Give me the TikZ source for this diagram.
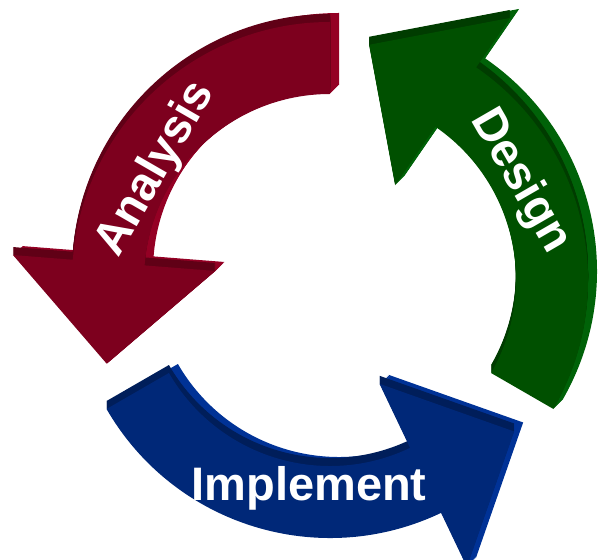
\documentclass[tikz,border=0pt]{standalone}
\usepackage{fontspec}
\setmainfont{Liberation Sans}
\usetikzlibrary{calc}

\definecolor{analysisred}{RGB}{125,0,30}
\definecolor{analysislit}{RGB}{148,0,36}
\definecolor{analysisdark}{RGB}{96,0,22}
\definecolor{designgreen}{RGB}{0,80,0}
\definecolor{designlit}{RGB}{0,98,8}
\definecolor{designdark}{RGB}{0,60,0}
\definecolor{implementblue}{RGB}{0,40,120}
\definecolor{implementlit}{RGB}{0,50,150}
\definecolor{implementdark}{RGB}{0,30,90}

% one curved arrow of the cycle, starting at angle #1 and running 85.5 degrees ccw
\newcommand{\cyclearrow}[1]{%
  (#1:258) arc[start angle=#1, delta angle=85.5, radius=258]
  -- (#1+85.5:318) -- ($(#1+85.5:216)+(#1+175.5:101)$) -- (#1+85.5:115)
  -- (#1+85.5:186) arc[start angle=#1+85.5, delta angle=-85.5, radius=186] -- cycle}

\begin{document}
\begin{tikzpicture}[x=1pt, y=1pt,
    cyclelabel/.style={text=white, inner sep=0pt, font=\fontsize{47}{50}\selectfont\bfseries}
]
    \useasboundingbox (-330,-279) rectangle (274,280);

    % --- Arrows: lit sides, shaded tops, then the front face ---
    \foreach \s/\col in {90/analysis, 210/implement, 330/design} {
        \foreach \d in {9,...,1}
            \fill[\col lit, shift={(\d,\d)}] \cyclearrow{\s};
        \foreach \d in {8,...,1}
            \fill[\col dark, shift={(0,\d)}] \cyclearrow{\s};
    }
    \fill[analysisred] \cyclearrow{90};
    \fill[implementblue] \cyclearrow{210};
    \fill[designgreen] \cyclearrow{330};

    % --- Labels ---
    \node[cyclelabel, rotate=60] (analysis) at (-174,111) {Analysis};
    \node[cyclelabel, rotate=-60] (design) at (190,99) {Design};
    \node[cyclelabel] (implement) at (-21,-208) {Implement};

\end{tikzpicture}
\end{document}
